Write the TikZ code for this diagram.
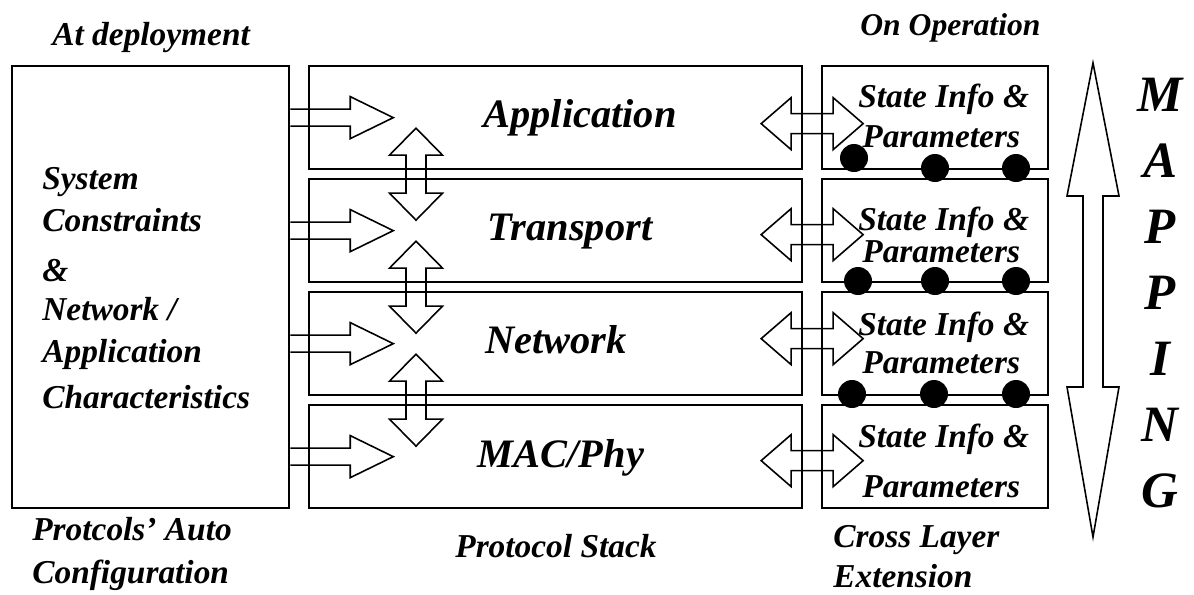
\documentclass[tikz,border=0pt]{standalone}
\usepackage{fontspec}
\setmainfont{Liberation Serif}
\usetikzlibrary{calc}
\def\px{0.02cm}
\tikzset{
  box/.style={draw, line width=1.3pt, anchor=north west, inner sep=0pt},
  blk/.style={draw, line width=0.9pt, line join=miter},
  txt/.style={font=\bfseries\itshape\fontsize{19}{22}\selectfont, inner sep=0pt, anchor=base west},
  big/.style={font=\bfseries\itshape\fontsize{23}{26}\selectfont, inner sep=0pt, anchor=base},
  map/.style={font=\bfseries\itshape\fontsize{29}{32}\selectfont, inner sep=0pt},
  dot/.style={circle, fill, inner sep=0pt, minimum size=28*\px},
  pics/rarr/.style={code={\draw[blk] (0,-8.5) -- (60,-8.5) -- (60,-21) -- (103,0) -- (60,21) -- (60,8.5) -- (0,8.5);}},
  pics/vdarr/.style={code={\draw[blk] (0,-46) -- (26.5,-19) -- (10,-19) -- (10,19) -- (26.5,19) -- (0,46) -- (-26.5,19) -- (-10,19) -- (-10,-19) -- (-26.5,-19) -- cycle;}},
  pics/hdarr/.style={code={\draw[blk] (-51,0) -- (-21,-26) -- (-21,-10) -- (21,-10) -- (21,-26) -- (51,0) -- (21,26) -- (21,10) -- (-21,10) -- (-21,26) -- cycle;}},
}
\begin{document}
\begin{tikzpicture}[x=0.02cm,y=-0.02cm]
\useasboundingbox (0,0) rectangle (1194,595);
\node[box, minimum width=277*\px, minimum height=442*\px] (dep) at (11,65) {};
\foreach \n/\y in {app/65,trn/178,net/291,mac/404} {
  \node[box, minimum width=493*\px, minimum height=103*\px] (\n) at (308,\y) {};
  \node[box, minimum width=226*\px, minimum height=103*\px] (x\n) at (821,\y) {};
}
\node[big] (lapp) at (580,127) {Application};
\node[big] (ltrn) at (570,240) {Transport};
\node[big] (lnet) at (556,353) {Network};
\node[big] (lmac) at (561,467) {MAC/Phy};
\foreach \t/\y [count=\i] in {System/189,Constraints/231,\&/281,{Network /}/320,Application/362,Characteristics/408}
  \node[txt] (sc\i) at (42,\y) {\t};
\node[txt] (top1) at (52,46) {At deployment};
\node[txt, font=\bfseries\itshape\fontsize{18}{21}\selectfont] (top2) at (860,35) {On Operation};
\node[txt] (bot1) at (32,540) {Protcols’ Auto};
\node[txt] (bot2) at (32,583) {Configuration};
\node[txt] (bot3) at (455,557) {Protocol Stack};
\node[txt] (bot4) at (833,547) {Cross Layer};
\node[txt] (bot5) at (833,587) {Extension};
\foreach \n/\a/\b in {app/107/147,trn/230/262,net/335/373,mac/447/497} {
  \node[txt] (s\n) at (858,\a) {State Info \&};
  \node[txt] (p\n) at (862,\b) {Parameters};
}
\foreach \n in {app,trn,net,mac}
  \pic at (dep.east |- \n.center) {rarr};
\foreach \a/\b in {app/trn,trn/net,net/mac}
  \pic at ($(\a.south west)!.5!(\b.north west)+(108,0)$) {vdarr};
\foreach \n/\o in {app/6,trn/4,net/-5,mac/4}
  \pic at ($(\n.east)!.5!(x\n.west)+(0,\o)$) {hdarr};
\node[dot] (d1) at (854,158) {};
\node[dot] (d2) at (935,168) {};
\node[dot] (d3) at (1016,168) {};
\node[dot] (d4) at (858,281) {};
\node[dot] (d5) at (935,281) {};
\node[dot] (d6) at (1016,281) {};
\node[dot] (d7) at (852,394) {};
\node[dot] (d8) at (934,394) {};
\node[dot] (d9) at (1016,394) {};
\draw[blk] (1093,63) -- (1119,196) -- (1103,196) -- (1103,387) -- (1119,387) -- (1093,537) -- (1067,387) -- (1083,387) -- (1083,196) -- (1067,196) -- cycle;
\foreach \l [count=\i] in {M,A,P,P,I,N,G}
  \node[map] (m\i) at (1160,29+66*\i) {\l};
\end{tikzpicture}
\end{document}
